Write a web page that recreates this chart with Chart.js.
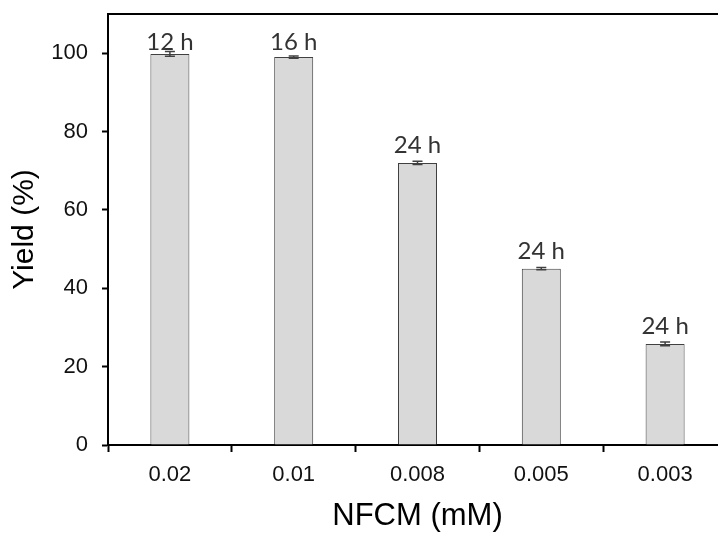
<!DOCTYPE html>
<html lang="en">
<head>
  <meta charset="UTF-8" />
  <title>Yield vs NFCM</title>
  <script src="https://cdn.jsdelivr.net/npm/chart.js"></script>
  <style>
    body {
      margin: 0;
      padding: 0;
      background: #fff;
      overflow: hidden;
    }
    canvas {
      display: block;
    }
  </style>
</head>
<body>
  <canvas id="grafico" width="730" height="535"></canvas>

  <script>
    const concentraciones = ["0.02", "0.01", "0.008", "0.005", "0.003"];
    const rendimiento = [99.8, 99.0, 72.0, 45.0, 25.8];
    const errores = [0.6, 0.3, 0.4, 0.3, 0.5];
    const tiempos = ["12 h", "16 h", "24 h", "24 h", "24 h"];

    // error bars, time labels and top frame line
    const extras = {
      id: 'extras',
      afterDatasetsDraw(chart) {
        const ctx = chart.ctx;
        const y = chart.scales.y;
        const meta = chart.getDatasetMeta(0);
        const area = chart.chartArea;
        ctx.save();

        ctx.strokeStyle = '#404040';
        ctx.lineWidth = 1.5;
        meta.data.forEach((bar, i) => {
          const x = bar.x;
          const hi = y.getPixelForValue(rendimiento[i] + errores[i]);
          const lo = y.getPixelForValue(rendimiento[i] - errores[i]);
          ctx.beginPath();
          ctx.moveTo(x, hi); ctx.lineTo(x, lo);
          ctx.moveTo(x - 5, hi); ctx.lineTo(x + 5, hi);
          ctx.moveTo(x - 5, lo); ctx.lineTo(x + 5, lo);
          ctx.stroke();
        });

        ctx.fillStyle = '#333';
        ctx.font = '24px Lato, sans-serif';
        ctx.textAlign = 'center';
        ctx.textBaseline = 'alphabetic';
        meta.data.forEach((bar, i) => {
          const ty = Math.max(bar.y - 10, area.top + 36);
          ctx.fillText(tiempos[i], bar.x, ty);
        });

        ctx.strokeStyle = '#000';
        ctx.lineWidth = 2;
        ctx.beginPath();
        ctx.moveTo(area.left, area.top);
        ctx.lineTo(chart.width, area.top);
        ctx.stroke();
        ctx.restore();
      }
    };

    new Chart(document.getElementById('grafico'), {
      type: 'bar',
      data: {
        labels: concentraciones,
        datasets: [{
          data: rendimiento,
          backgroundColor: '#d9d9d9',
          borderColor: '#404040',
          borderWidth: 1,
          barPercentage: 0.315,
          categoryPercentage: 1
        }]
      },
      options: {
        responsive: false,
        animation: false,
        layout: { padding: { top: 0, right: 3, left: 0, bottom: 0 } },
        plugins: {
          legend: { display: false },
          tooltip: { enabled: false }
        },
        scales: {
          x: {
            afterFit(scale) { scale.height = 90; },
            border: { color: '#000', width: 2 },
            grid: {
              drawOnChartArea: false,
              offset: true,
              tickLength: 7,
              tickColor: '#000',
              tickWidth: 2
            },
            ticks: {
              color: '#111',
              padding: 10,
              font: { family: 'Liberation Sans, Arial, sans-serif', size: 22 }
            },
            title: {
              display: true,
              text: 'NFCM (mM)',
              color: '#000',
              padding: { top: 0, bottom: 0 },
              font: { family: 'Liberation Sans, Arial, sans-serif', size: 31 }
            }
          },
          y: {
            min: 0,
            max: 110,
            afterFit(scale) {
              scale.width = 108;
              scale.paddingTop = 14;
            },
            afterBuildTicks(scale) {
              scale.ticks = scale.ticks.filter(t => t.value % 20 === 0);
            },
            border: { color: '#000', width: 2 },
            grid: {
              drawOnChartArea: false,
              tickLength: 6,
              tickColor: '#000',
              tickWidth: 2
            },
            ticks: {
              stepSize: 20,
              color: '#111',
              padding: 14,
              font: { family: 'Liberation Sans, Arial, sans-serif', size: 22 }
            },
            title: {
              display: true,
              text: 'Yield (%)',
              color: '#000',
              padding: { top: 7, bottom: 0 },
              font: { family: 'Liberation Sans, Arial, sans-serif', size: 30 }
            }
          }
        }
      },
      plugins: [extras]
    });
  </script>
</body>
</html>
